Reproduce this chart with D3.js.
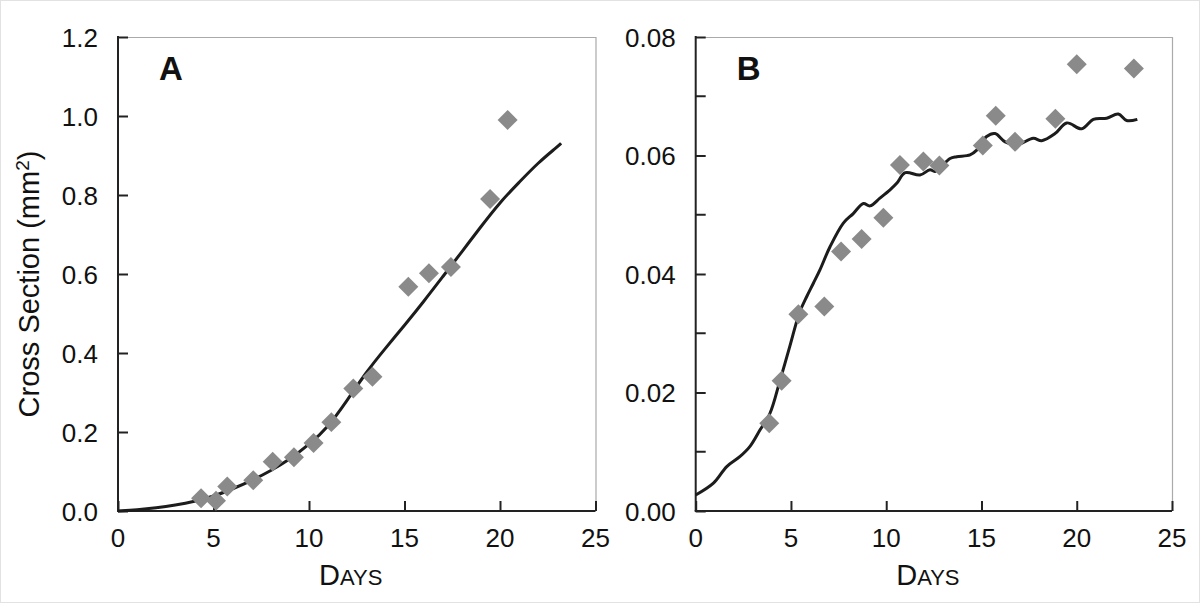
<!DOCTYPE html>
<html>
<head>
<meta charset="utf-8">
<script src="https://cdn.jsdelivr.net/npm/d3@7"></script>
<style>
  html, body { margin: 0; padding: 0; background: #fff; }
  svg { display: block; font-family: "Liberation Sans", Arial, sans-serif; }
</style>
</head>
<body>
<div id="chart"></div>
<script>
// ---- data ----
var xTicks = [0, 5, 10, 15, 20, 25];

// panel A : measured points (days, mm2)
var aDays  = [4.35, 5.13, 5.72, 7.08, 8.10, 9.21, 10.24, 11.17, 12.32, 13.32, 15.20, 16.28, 17.43, 19.48, 20.40];
var aValue = [0.032, 0.026, 0.062, 0.078, 0.125, 0.136, 0.172, 0.225, 0.310, 0.340, 0.568, 0.602, 0.618, 0.790, 0.990];
// panel A : model curve
var aCurveDays  = [0, 1, 2, 3, 4, 5, 6, 7, 8, 9, 10, 11, 12, 13, 14, 15, 16, 17, 18, 19, 20, 21, 22, 23, 23.2];
var aCurveValue = [0, 0.003, 0.008, 0.015, 0.024, 0.037, 0.056, 0.077, 0.102, 0.131, 0.168, 0.212, 0.28, 0.352, 0.412, 0.47, 0.53, 0.593, 0.656, 0.72, 0.782, 0.832, 0.882, 0.922, 0.931];
var aYTicks = [0, 0.2, 0.4, 0.6, 0.8, 1.0, 1.2];

// panel B
var bDays  = [3.86, 4.51, 5.39, 6.75, 7.63, 8.71, 9.85, 10.72, 11.95, 12.79, 15.07, 15.75, 16.76, 18.88, 20.00, 23.00];
var bValue = [0.0148, 0.0220, 0.0332, 0.0345, 0.0438, 0.0459, 0.0495, 0.0584, 0.0590, 0.0583, 0.0617, 0.0667, 0.0623, 0.0662, 0.0754, 0.0747];
var bCurveDays  = [0, 0.93, 1.63, 2.33, 2.85, 3.38, 3.9, 4.43, 4.95, 5.45, 5.83, 6.17, 6.52, 7.05, 7.75, 8.27, 8.8, 9.15, 9.67, 10.2, 10.55, 11.0, 11.77, 12.3, 12.56, 13.35, 13.7, 14.4, 14.75, 15.27, 15.71, 16.24, 16.85, 17.72, 18.16, 18.86, 19.48, 20.26, 20.87, 21.57, 22.18, 22.62, 23.18];
var bCurveValue = [0.0027, 0.0047, 0.0075, 0.0092, 0.0109, 0.0137, 0.0165, 0.0221, 0.0279, 0.0335, 0.0362, 0.0384, 0.0407, 0.0446, 0.0486, 0.0502, 0.0519, 0.0515, 0.0528, 0.0542, 0.0553, 0.0571, 0.0567, 0.0576, 0.0573, 0.0595, 0.0598, 0.0601, 0.0609, 0.0632, 0.0637, 0.0623, 0.0618, 0.0629, 0.0625, 0.0637, 0.0655, 0.0645, 0.0661, 0.0663, 0.0670, 0.0659, 0.0661];
var bYTicks = [0, 0.02, 0.04, 0.06, 0.08];
var bYMinor = [0.01, 0.03, 0.05, 0.07];

var width = 1200, height = 603;
var svg = d3.select("#chart").append("svg")
    .attr("width", width).attr("height", height);

// faint frame round the picture
svg.append("rect").attr("x", 0.5).attr("y", 0.5)
    .attr("width", width - 1).attr("height", height - 1)
    .attr("fill", "none").attr("stroke", "#e2e2e2");

var plotTop = 37, plotBottom = 511;
var tickLen = 10;

function panel(opts) {
    var x = d3.scaleLinear().domain([0, 25]).range([opts.left, opts.right]);
    var y = d3.scaleLinear().domain([0, opts.ymax]).range([plotBottom, plotTop]);
    var g = svg.append("g");

    // light top / right frame
    g.append("path")
        .attr("d", "M" + opts.left + "," + (plotTop + 0.5) + "H" + (opts.right + 0.5) + "V" + plotBottom)
        .attr("fill", "none").attr("stroke", "#aaa").attr("stroke-width", 1.2);

    // y axis, ticks inward
    var yAxis = d3.axisRight(y).tickValues(opts.yTicks).tickSize(tickLen).tickFormat("");
    var ya = g.append("g").attr("transform", "translate(" + opts.left + ",0)").call(yAxis);
    if (opts.yMinor) {
        ya.selectAll(".minor").data(opts.yMinor).enter().append("line")
            .attr("class", "minor")
            .attr("x1", 0).attr("x2", tickLen)
            .attr("y1", function(d){ return y(d); }).attr("y2", function(d){ return y(d); });
    }
    // x axis, ticks inward
    var xAxis = d3.axisTop(x).tickValues(xTicks).tickSize(tickLen).tickFormat("");
    var xa = g.append("g").attr("transform", "translate(0," + plotBottom + ")").call(xAxis);

    g.selectAll(".domain").attr("stroke", "#222").attr("stroke-width", 2);
    g.selectAll(".tick line, .minor").attr("stroke", "#222").attr("stroke-width", 2);
    // redraw clean domains (no outer ticks)
    ya.select(".domain").attr("d", "M0," + (plotTop - 1) + "V" + plotBottom);
    xa.select(".domain").attr("d", "M" + (opts.left - 1) + ",0H" + opts.right);

    // tick labels
    g.selectAll(".ylab").data(opts.yTicks).enter().append("text")
        .attr("x", opts.left - 20)
        .attr("y", function(d){ return y(d) + 9.5; })
        .attr("text-anchor", "end")
        .attr("font-size", 26).attr("fill", "#111")
        .text(function(d){ return d3.format(opts.yFormat)(d); });
    g.selectAll(".xlab").data(xTicks).enter().append("text")
        .attr("x", function(d){ return x(d); })
        .attr("y", 547)
        .attr("text-anchor", "middle")
        .attr("font-size", 26).attr("fill", "#111")
        .text(function(d){ return d; });

    // x title in small caps
    var xt = g.append("text")
        .attr("x", (opts.left + opts.right) / 2 - 6).attr("y", 585)
        .attr("text-anchor", "middle")
        .attr("font-size", 29).attr("fill", "#111");
    xt.append("tspan").text("D");
    xt.append("tspan").attr("font-size", 22).text("AYS");

    // panel letter
    g.append("text")
        .attr("x", opts.left + 41).attr("y", 80)
        .attr("font-size", 33).attr("font-weight", "bold").attr("fill", "#111")
        .text(opts.letter);

    // model curve
    var line = d3.line()
        .x(function(d){ return x(d[0]); })
        .y(function(d){ return y(d[1]); })
        .curve(opts.curve);
    g.append("path")
        .datum(d3.zip(opts.cx, opts.cy))
        .attr("d", line)
        .attr("fill", "none").attr("stroke", "#1c1c1c")
        .attr("stroke-width", 3).attr("stroke-linejoin", "round");

    // measured points as grey diamonds
    var diamond = d3.symbol().type(d3.symbolSquare).size(200);
    g.selectAll(".pt").data(d3.zip(opts.px, opts.py)).enter().append("path")
        .attr("class", "pt")
        .attr("d", diamond)
        .attr("transform", function(d){ return "translate(" + x(d[0]) + "," + y(d[1]) + ") rotate(45)"; })
        .attr("fill", "#8a8a8a");
}

panel({ left: 118, right: 595.5, ymax: 1.2, yTicks: aYTicks, yFormat: ".1f", letter: "A",
        cx: aCurveDays, cy: aCurveValue, px: aDays, py: aValue, curve: d3.curveBasis });
panel({ left: 695.7, right: 1172, ymax: 0.08, yTicks: bYTicks, yMinor: bYMinor, yFormat: ".2f", letter: "B",
        cx: bCurveDays, cy: bCurveValue, px: bDays, py: bValue, curve: d3.curveCatmullRom });

// y title
svg.append("text")
    .attr("transform", "translate(39,284) rotate(-90)")
    .attr("text-anchor", "middle")
    .attr("font-size", 29).attr("fill", "#111")
    .html('Cross Section (mm<tspan dy="-10" font-size="19">2</tspan><tspan dy="10">)</tspan>');
</script>
</body>
</html>
